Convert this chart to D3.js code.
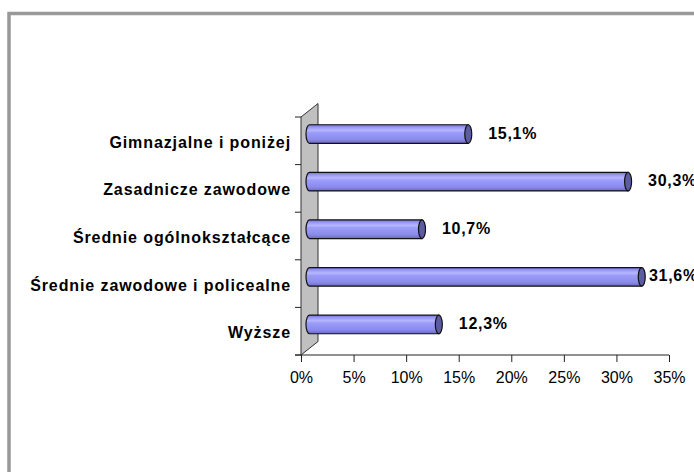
<!DOCTYPE html>
<html>
<head>
<meta charset="utf-8">
<script src="https://cdn.jsdelivr.net/npm/d3@7"></script>
<style>
  html, body { margin: 0; background: #fff; overflow: hidden; }
  svg { display: block; }
  text { font-family: 'Liberation Sans', Arial, sans-serif; }
</style>
</head>
<body>
<div id="chart"></div>
<script>
// Chart data
const categories = ['Gimnazjalne i poniżej', 'Zasadnicze zawodowe', 'Średnie ogólnokształcące', 'Średnie zawodowe i policealne', 'Wyższe']
const values = [15.1, 30.3, 10.7, 31.6, 12.3]
const tickValues = [0, 5, 10, 15, 20, 25, 30, 35]

let W = 694, H = 472
let margin = { top: 117, left: 301 },
    width = 368,
    height = 238,
    depth = { dx: 17, dy: -13.5 }

let svg = d3.select('#chart').append('svg')
    .attr('width', W)
    .attr('height', H)

// Outer frame (only left and top edges fall inside the picture)
svg.append('path')
  .attr('d', 'M9,' + (H + 10) + 'L9,13.5L' + (W + 10) + ',13.5')
  .attr('fill', 'none')
  .attr('stroke', '#999')
  .attr('stroke-width', 3.5)

// Gradient for cylinder bodies
let grad = svg.append('defs').append('linearGradient')
    .attr('id', 'cyl')
    .attr('x1', 0).attr('y1', 0).attr('x2', 0).attr('y2', 1)
;[['0%', '#7272cc'], ['14%', '#9a9af6'], ['30%', '#b6b6ff'], ['42%', '#9c9cfa'], ['80%', '#8a8ae8'], ['100%', '#6a6ac0']]
  .forEach(s => grad.append('stop').attr('offset', s[0]).attr('stop-color', s[1]))

let g = svg.append('g')
    .attr('transform', 'translate(' + margin.left + ',' + margin.top + ')')

// Scales
let xScale = d3.scaleLinear().domain([0, 35]).range([0, width]),
    yScale = d3.scaleBand().domain(categories).range([0, height])

// 3D side wall
g.append('polygon')
  .attr('points', [[0, 0], [depth.dx, depth.dy], [depth.dx, height + depth.dy], [0, height]].join(' '))
  .attr('fill', '#c0c0c0')
  .attr('stroke', '#333')
  .attr('stroke-width', 1)

// X axis
let xAxis = d3.axisBottom(xScale)
    .tickValues(tickValues)
    .tickFormat(d => d + '%')
    .tickSize(7)
    .tickPadding(10)

let ax = g.append('g')
    .attr('transform', 'translate(0,' + height + ')')
    .call(xAxis)
ax.select('.domain').remove()
ax.selectAll('line').attr('stroke', '#222')
ax.selectAll('text')
  .attr('fill', '#000')
  .style('font-size', '16px')
ax.append('line')
  .attr('x1', -6).attr('x2', width)
  .attr('stroke', '#222')

// Category ticks and labels
let bounds = categories.map(c => yScale(c)).concat([height])
g.selectAll('.cat-tick').data(bounds).enter().append('line')
  .attr('class', 'cat-tick')
  .attr('x1', -6).attr('x2', 0)
  .attr('y1', d => d).attr('y2', d => d)
  .attr('stroke', '#222')

g.selectAll('.cat-label').data(categories).enter().append('text')
  .attr('class', 'cat-label')
  .attr('x', -10)
  .attr('y', d => yScale(d) + yScale.bandwidth() / 2 + 7)
  .attr('text-anchor', 'end')
  .style('font-size', '16px')
  .style('font-weight', 'bold')
  .style('letter-spacing', '0.9px')
  .text(d => d)

// Cylinders
let barH = yScale.bandwidth() * 0.39,
    rx = 3.5

let bars = g.selectAll('.bar').data(values).enter().append('g')
    .attr('class', 'bar')

bars.each(function(v, i) {
  let cy = yScale(categories[i]) + yScale.bandwidth() / 2 + depth.dy / 2,
      x0 = xScale(0) + depth.dx / 2,
      x1 = xScale(v) + depth.dx / 2,
      top = cy - barH / 2,
      bot = cy + barH / 2,
      sel = d3.select(this)

  sel.append('path')
    .attr('d', 'M' + x0 + ',' + top + 'L' + x1 + ',' + top + 'L' + x1 + ',' + bot +
      'L' + x0 + ',' + bot + 'A' + rx + ',' + (barH / 2) + ' 0 0 1 ' + x0 + ',' + top + 'Z')
    .attr('fill', 'url(#cyl)')
    .attr('stroke', '#111')
    .attr('stroke-width', 1.2)

  sel.append('ellipse')
    .attr('cx', x1).attr('cy', cy)
    .attr('rx', rx).attr('ry', barH / 2)
    .attr('fill', '#5c5ca2')
    .attr('stroke', '#111')
    .attr('stroke-width', 1.2)

  // value label, pushed in when it would run off the plot
  sel.append('text')
    .attr('x', Math.min(x1 + 20, width - 20))
    .attr('y', cy - 1)
    .attr('dominant-baseline', 'central')
    .style('font-size', '16px')
    .style('font-weight', 'bold')
    .style('letter-spacing', '0.7px')
    .text(d3.format('.1f')(v).replace('.', ',') + '%')
})
</script>
</body>
</html>
